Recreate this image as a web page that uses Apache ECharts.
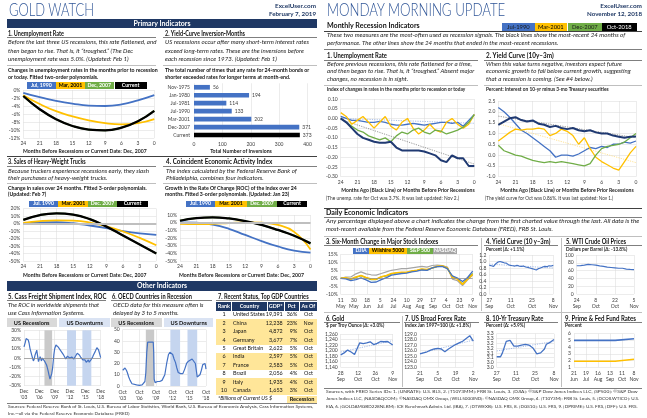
<!DOCTYPE html>
<html>
<head>
<meta charset="utf-8">
<title>Gold Watch / Monday Morning Update</title>
<script src="https://cdn.jsdelivr.net/npm/echarts@6.0.0/dist/echarts.min.js"></script>
<style>
html,body{margin:0;padding:0;background:#fff;}
#wrap{position:relative;width:647px;height:418px;overflow:hidden;font-family:Lato,"Liberation Sans",sans-serif;background:#fff;}
#bg,#chart,#fg{position:absolute;left:0;top:0;width:647px;height:418px;}
#bg{z-index:1}#chart{z-index:2}#fg{z-index:3;pointer-events:none}
.r{position:absolute}
.t{position:absolute;white-space:nowrap;line-height:1;}
.title{font-size:17px;color:#2f5597;font-weight:300;}
.site{font-size:6.3px;font-weight:700;color:#1f3864;}
.bar{font-size:7.2px;font-weight:700;color:#fff;}
.hd{font-size:6.6px;font-weight:700;color:#111;}
.it{font-size:6.4px;font-style:italic;color:#222;}
.bd{font-size:5.6px;font-weight:700;color:#111;}
.sm{font-size:4.9px;font-weight:700;color:#222;}
.nt{font-size:4.8px;color:#333;}
.src{font-size:4.6px;color:#333;}
.lg{font-size:5.2px;font-weight:700;}
.lg2{font-size:5.8px;}
.box{font-size:5.6px;font-weight:700;color:#111;}
.tb{font-size:5.4px;color:#111;}
.tbh{font-size:5.4px;font-weight:700;color:#fff;}
.tbi{font-size:5.4px;font-style:italic;color:#111;}
.dh{font-size:8.2px;font-weight:700;color:#111;}
</style>
</head>
<body>
<div id="wrap"><div id="bg"></div><div id="chart"></div><div id="fg"></div></div>
<script>
// ===================== DATA =====================
// --- Gold Watch: primary indicators (months before recession, fitted curves) ---
const monthsBefore = [24,21,18,15,12,9,6,3,0];
const unempJul1990 = [-0.7,-1.8,-2.7,-3.4,-3.9,-4.0,-3.6,-2.6,-1.3];
const unempMar2001 = [-1.3,-3.5,-5.3,-6.6,-7.6,-8.3,-8.6,-8.3,-7.3];
const unempDec2007 = [-1.5,-4.8,-7.3,-9.0,-9.9,-10.1,-9.4,-7.8,-5.2];
const unempCurrent = [-1.5,-4.8,-7.3,-9.0,-9.9,-10.1,-9.4,-7.8,-5.2];

const inversionCats = ['Nov-1975','Jan-1980','Jul-1981','Jul-1990','Mar-2001','Dec-2007','Current'];
const inversionVals = [56,194,114,133,202,371,373];

const trucksJul1990 = [0,1.5,2,0.5,-2.5,-6,-10,-13,-15];
const trucksMar2001 = [1,3.5,4.5,4,1.5,-3.5,-10.5,-19,-29];
const trucksDec2007 = [5,11.5,13.7,12,6,-4,-16,-28,-40];
const trucksCurrent = [5,11.5,13.7,12,6,-4,-16,-28,-40];

const ceaJul1990 = [0.5,0,-2.5,-8,-16,-24,-31,-36.5,-39];
const ceaMar2001 = [-1.5,-2,-1.5,-0.5,0.5,0,-3,-12,-35];
const ceaDec2007 = [2.5,6,7,5.5,2,-3,-9.5,-17,-27];
const ceaCurrent = [2.5,6,7,5.5,2,-3,-9.5,-17,-27];

// --- Other indicators ---
// Cass freight ROC: months since Dec 2003
const cassMonth = [0,3,5,8,10,12,14,16,18,20,22,24,26,28,30,32,34,36,38,41,43,45,47,49,51,53,55,57,59,61,63,65,67,70,72,75,78,80,83,86,88,92,96,98,100,102,104,107,110,112,114,117,120,122,125,128,130,133,135,138,141,143,146,149,151,153,155,157,159,161,163,165,167,169,171,173,175,177,178,180];
const cassRoc   = [12,17,21,20,19.5,16,10.5,7,3.3,0,-3.2,-1,3.3,5,8.5,2,-4,-1,1.4,-3.2,0,-1.1,-2,-4,-5,-7.6,-11,-14.8,-19,-22.8,-22,-17,-11.2,3.3,10,14.1,14.8,12,10.5,8,6.9,4,2.2,-1,-0.4,2,3.3,0,-1.1,1,0.4,-1,1.4,3,5.1,4,3.3,1,-0.4,-2,-3.2,-2,-4.7,-3,-2.2,-4.5,-4,-2,-1.1,1,3.3,5,6.9,9,11.2,10,8.7,7,6.9,0.4];
const cassTicks = ["Dec\n'03","Dec\n'06","Dec\n'09","Dec\n'12","Dec\n'15","Dec\n'18"];
const cassRecessions = [[48,66]];
const cassDownturns  = [[101,122],[137,158]];

// OECD countries in recession: months since Oct 2003
const oecdMonth = [0,2,5,8,10,13,16,20,23,30,36,42,45,48,50,52,54,60,66,67,68,70,75,80,85,88,91,95,99,102,105,108,111,114,117,120,125,130,134,138,142,146,150,154,157,159,161,164,167,170,173,176,178,180];
const oecdCount = [14,15,16,14,12,8,5,2,1,1,0.5,1,2,4,12,30,39,39,39,30,6,3,4,4,5,6,10,20,28,30,31,28,24,21,16,12,11,11,15,20,22,23,24,24,20,14,8,7,10,14,19,20,20,15];
const oecdTicks = ["Oct\n'03","Oct\n'06","Oct\n'09","Oct\n'12","Oct\n'15","Oct\n'18"];
const oecdRecessions = [[50,68]];
const oecdDownturns  = [[103,124],[140,161]];

// Top GDP countries table
const gdpRank    = [1,2,3,4,5,6,7,8,9,10];
const gdpCountry = ['United States','China','Japan','Germany','Great Britain','India','France','Brazil','Italy','Canada'];
const gdpBillions= [19391,12238,4872,3677,2622,2597,2583,2056,1935,1653];
const gdpPct     = [36,23,9,7,5,5,5,4,4,3];
const gdpAsOf    = ['Oct','Nov','Oct','Oct','Oct','Oct','Oct','Oct','Oct','Oct'];
const gdpRecession = [false,true,true,true,false,true,true,false,true,true];

// --- Monday Morning Update: monthly recession indicators ---
const monthsBack = [24,23,22,21,20,19,18,17,16,15,14,13,12,11,10,9,8,7,6,5,4,3,2,1,0];
const urJul1990 = [0.01,0.0,-0.01,-0.01,-0.015,-0.02,-0.02,-0.015,-0.02,-0.03,-0.035,-0.035,-0.03,-0.025,-0.03,-0.035,-0.03,-0.025,-0.02,-0.02,-0.025,-0.02,-0.04,-0.01,0.02];
const urMar2001 = [0.03,0.01,-0.03,-0.01,0.01,-0.02,-0.05,-0.02,0.01,-0.04,-0.06,-0.02,0.0,-0.05,-0.08,-0.06,-0.03,-0.06,-0.07,-0.02,0.0,-0.03,-0.05,-0.03,0.02];
const urDec2007 = [0.0,-0.02,-0.04,-0.06,-0.07,-0.09,-0.1,-0.11,-0.1,-0.12,-0.09,-0.07,-0.08,-0.06,-0.05,-0.07,-0.08,-0.06,-0.065,-0.08,-0.07,-0.06,-0.045,-0.02,0.02];
const urOct2018 = [0.0,-0.02,-0.05,-0.08,-0.1,-0.11,-0.12,-0.125,-0.125,-0.12,-0.15,-0.165,-0.165,-0.165,-0.165,-0.17,-0.18,-0.19,-0.215,-0.225,-0.19,-0.205,-0.205,-0.245,-0.245];
const urTrendEnds = [24,0];
const urTrendOct2018 = [-0.005,-0.235];
const urTrendJul1990 = [0.0,-0.025];

const ycJul1990 = [2.2,2.0,1.75,1.45,1.15,1.0,0.8,0.6,0.4,0.2,-0.1,0.0,0.0,-0.05,0.05,0.2,0.35,0.3,0.4,0.35,0.5,0.5,0.6,0.55,0.65];
const ycMar2001 = [0.65,0.85,1.05,1.2,1.15,1.2,1.2,1.25,1.2,0.9,1.0,1.2,1.1,0.9,0.5,0.8,0.3,-0.1,-0.3,-0.45,-0.6,-0.7,-0.3,0.1,0.4];
const ycDec2007 = [0.45,0.2,0.1,0.0,-0.05,-0.15,-0.25,-0.3,-0.35,-0.3,-0.35,-0.3,-0.35,-0.4,-0.45,-0.5,-0.4,0.0,0.3,0.4,0.45,0.5,0.6,0.8,1.0];
const ycOct2018 = [1.4,1.55,1.7,1.75,1.62,1.55,1.6,1.45,1.4,1.3,1.35,1.25,1.2,1.25,1.15,1.1,1.15,1.05,1.0,1.0,0.9,0.85,0.8,0.85,0.86];
const ycTrendOct2018 = [1.8,0.8];
const ycTrendMar2001 = [1.45,-0.35];

// --- Daily economic indicators ---
const stockDay = [0,5,10,15,20,25,30,35,40,45,50,55,60,65,70,75,80,85,90,95,100,105,110,115,120,125,130];
const djia     = [0,-0.3,-1.5,-0.8,0.2,-1.0,-2.5,-2.3,-0.8,0.4,2.0,2.5,3.0,3.2,4.0,4.5,5.2,5.0,6.5,7.3,7.5,6.0,1.5,0.2,-2.0,0.5,4.5];
const wilshire = [0,0.3,-0.5,0.8,1.8,0.5,-0.5,-0.5,1.0,1.8,3.0,3.5,3.8,3.8,4.5,5.0,5.8,5.5,6.5,7.5,7.8,6.5,0.5,-0.5,-3.8,-0.5,2.5];
const sp500    = [0,0.2,-0.6,0.6,1.6,0.3,-0.8,-0.8,0.8,1.5,2.8,3.3,3.6,3.6,4.3,4.8,5.6,5.3,6.3,7.3,7.6,6.3,0.8,-0.3,-3.3,0,3.0];
const nasdaq   = [0,0.8,0.8,2.8,4.0,2.8,2.2,2.0,3.0,4.0,5.0,5.5,6.0,6.0,6.5,7.0,7.5,7.0,8.0,8.3,8.0,7.0,-0.5,-1.5,-4.5,-1.0,2.0];
const stockTicks = ['11\nMay','30\nMay','18\nJun','5\nJul','24\nJul','10\nAug','29\nAug','17\nSep','4\nOct','23\nOct','9\nNov'];

const tradingDay = [0,1,2,3,4,5,6,7,8,9,10,11,12,13,14,15,16,17,18,19,20,21,22,23,24,25,26,27,28,29,30];
const trendEnds = [0,30];
const ycDaily = [0.88,0.87,0.85,0.93,0.98,1.00,0.98,0.96,0.95,0.90,0.88,0.87,0.86,0.88,0.86,0.85,0.86,0.83,0.82,0.80,0.78,0.76,0.74,0.78,0.80,0.83,0.85,0.84,0.87,0.86,0.88];
const ycDailyTrend = [0.92,0.80];
const ycDailyTicks = ['27\nSep','11\nOct','25\nOct','8\nNov'];
const wti = [72.5,72,73,73,74,75,76,76,75,74,74,73,72,71,71,70,69,69,68,67,67,67,66,66,66,65,64,64,63,63,62.5];
const wtiTicks = ['24\nSep','8\nOct','22\nOct','5\nNov'];
const gold = [1185,1188,1192,1196,1202,1200,1195,1190,1186,1190,1215,1228,1230,1225,1224,1228,1231,1232,1230,1222,1220,1226,1231,1233,1230,1232,1234,1233,1228,1225,1220];
const goldTrend = [1195,1236];
const goldTicks = ['28\nSep','12\nOct','26\nOct','9\nNov'];
const forex = [125.4,125.5,125.6,125.6,125.8,125.9,126.1,126.2,126.3,126.3,126.4,126.5,126.3,126.0,125.8,125.9,126.3,126.5,126.7,126.9,127.1,127.2,127.4,127.6,127.7,127.9,128.2,128.5,128.7,128.2,127.7];
const forexTrend = [125.5,127.9];
const forexTicks = ['21\nSep','5\nOct','19\nOct','2\nNov'];
const tsy10 = [3.06,3.08,3.06,3.10,3.16,3.22,3.24,3.23,3.22,3.17,3.16,3.17,3.17,3.18,3.20,3.19,3.20,3.18,3.17,3.15,3.12,3.09,3.08,3.10,3.12,3.14,3.19,3.20,3.21,3.21,3.24];
const tsy10Trend = [3.12,3.22];
const tsy10Ticks = ['27\nSep','11\nOct','25\nOct','8\nNov'];
const rateDay = [0,96,99,140];
const primeRate = [5.0,5.0,5.25,5.25];
const fedFunds = [1.91,1.91,2.18,2.20];
const rateTicks = ['21\nJun','19\nJul','16\nAug','13\nSep','11\nOct','8\nNov'];

// ===================== STYLE / LAYOUT =====================
const BLUE='#4472c4', YEL='#ffc000', GRN='#70ad47', BLK='#000000', NAVY='#1f3864', NAVYL='#203a72', GRAY='#a5a5a5';
const bg=document.getElementById('bg'), fg=document.getElementById('fg');
function rect(x,y,w,h,c){const d=document.createElement('div');d.className='r';Object.assign(d.style,{left:x+'px',top:y+'px',width:w+'px',height:h+'px',background:c});bg.appendChild(d);return d;}
function hline(x1,x2,y,c,t){t=t||0.6;return rect(x1,y-t/2,x2-x1,t,c||'#7f7f7f');}
function vline(x,y1,y2,c,t){t=t||0.6;return rect(x-t/2,y1,t,y2-y1,c||'#bfbfbf');}
const texts=[];
function T(x,y,s,cls,w,align,color){const d=document.createElement('div');d.className='t '+cls;d.textContent=s;d.style.left=x+'px';d.style.top=y+'px';if(color)d.style.color=color;fg.appendChild(d);texts.push({d,w,cls,align:align||'l'});return d;}
function fitTexts(){
  const sums={};
  texts.forEach(o=>{o.nat=o.d.getBoundingClientRect().width; if(o.w){o.s=o.w/o.nat;(sums[o.cls]=sums[o.cls]||[]).push(o.s);}});
  texts.forEach(o=>{
    let s=o.s; if(!s){const a=sums[o.cls]; s=a?a.reduce((p,c)=>p+c,0)/a.length:1;}
    const tx=o.align==='c'?'-50%':o.align==='r'?'-100%':'0';
    o.d.style.transformOrigin=(o.align==='c'?'center':o.align==='r'?'right':'left')+' center';
    o.d.style.transform='translate('+tx+',-60%) scaleX('+s.toFixed(3)+')';
  });
}
function legend(boxes,y1,y2,names,bgs,fgs,cls){boxes.forEach((b,i)=>{rect(b[0],y1,b[1]-b[0],y2-y1,bgs[i]);T((b[0]+b[1])/2,(y1+y2)/2+0.3,names[i],cls||'lg',null,'c',fgs[i]);});}

// ---------- LEFT PAGE ----------
T(9,11,'GOLD WATCH','title',85);
T(316,6.7,'ExcelUser.com','site',41,'r');
T(316,15,'February 7, 2019','site',47,'r');
rect(7,19,309.7,9.3,NAVY);
T(161.5,23.9,'Primary Indicators','bar',57,'c');

T(8,33.7,'1. Unemployment Rate','hd',56);
T(165,34.3,'2. Yield-Curve Inversion-Months','hd',80);
hline(7,156,37.5); hline(163,316.7,37.5);
T(8.3,43.3,'Before the last three US recessions, this rate flattened, and','it',148.4);
T(8.3,51.7,'then began to rise. That is, it “troughed.” (The Dec','it');
T(8.3,60,'unemployment rate was 5.0%. (Updated: Feb 1)','it');
T(165,43.3,'US recessions occur after many short-term interest rates','it',144);
T(165,51.7,'exceed long-term rates. These are the inversions before','it');
T(165,60,'each recession since 1973. (Updated: Feb 1)','it');
hline(7,156,65.7,'#bfbfbf'); hline(163,316.7,65.7,'#bfbfbf');
T(8,70,'Changes in unemployment rates in the months prior to recession','bd',149.7);
T(8,76.7,'or today. Fitted two-order polynomials.','bd');
T(165,70,'The total number of times that any rate for 24-month bonds or','bd',144.3);
T(165,76.7,'shorter exceeded rates for longer terms at month-end.','bd');
const leftNames=['Jul, 1990','Mar, 2001','Dec, 2007','Current'];
const leftBg=[BLUE,YEL,GRN,BLK], leftFg=['#fff','#000','#fff','#fff'];
legend([[26.7,56],[56,85],[85,113.5],[114.5,146.7]],82.3,88.7,leftNames,leftBg,leftFg);
T(23,151.7,'Months Before Recessions or Current Date: Dec, 2007','sm',123.7);
T(241,151.7,'Total Number of Inversions','sm',61.7,'c');
hline(7,316.7,156,'#404040',0.8);

T(8,162.3,'3. Sales of Heavy-Weight Trucks','hd',77.7);
T(166,162.3,'4. Coincident Economic Activity Index','hd',106.3);
hline(7,156,166); hline(163,316.7,166);
T(8.3,171.7,'Because truckers experience recessions early, they slash','it',141);
T(8.3,179.3,'their purchases of heavy-weight trucks.','it');
T(166,171.7,'The index calculated by the Federal Reserve Bank of','it',130.7);
T(166,179.3,'Philadelphia, combines four indicators.','it');
hline(7,156,183.3,'#bfbfbf'); hline(163,316.7,183.3,'#bfbfbf');
T(8,187.7,'Change in sales over 24 months. Fitted 3-order polynomials.','bd',138.7);
T(8,194.3,'(Updated: Feb 7)','bd');
T(165,187.7,'Growth in the Rate Of Change (ROC) of the index over 24','bd',131.7);
T(165,194.3,'months. Fitted 3-order polynomials. (Updated: Jan 23)','bd');
legend([[29,58.3],[58.3,88.3],[88.3,116.7],[116.7,148.3]],200.7,206.7,['Jul. 1990','Mar. 2001','Dec. 2007','Current'],leftBg,leftFg);
legend([[186,215],[215,247],[247,277],[277,307]],200.7,206.7,['Jul. 1990','Mar. 2001','Dec. 2007','Current'],leftBg,leftFg);
T(23,275.7,'Months Before Recessions or Current Date: Dec, 2007','sm',123.4);
T(178.5,275.7,'Months Before Recessions or Current Date: Dec, 2007','sm',125);

rect(7,281,309.7,10,NAVY);
T(161.5,286.2,'Other Indicators','bar',50,'c');
T(8,296.7,'5. Cass Freight Shipment Index, ROC','hd',98.4);
T(112,296.7,'6. OECD Countries in Recession','hd',80);
T(218,296.7,'7. Recent Status, Top GDP Countries','hd',90.6);
hline(7,106,300); hline(111,212,300); hline(216,317.3,300);
T(8.3,306,'The ROC in worldwide shipments that','it',91);
T(8.3,314,'use Cass Information Systems.','it');
T(112.7,306,'OECD data for this measure often is','it',90.6);
T(112.7,314,'delayed by 3 to 5 months.','it');
rect(6.7,318.3,50,8.4,'#d9d9d9'); T(31.7,322.6,'US Recessions','box',null,'c');
rect(59.3,318.3,50.7,8.4,'#dae3f3'); T(84.7,322.6,'US Downturns','box',null,'c');
rect(110.7,318.3,51,8.4,'#d9d9d9'); T(136.2,322.6,'US Recessions','box',null,'c');
rect(164.3,318.3,49,8.4,'#dae3f3'); T(188.8,322.6,'US Downturns','box',null,'c');

// table
const TX=[216,231.7,267.3,284,299.3,317.3];
rect(216,301.7,101.3,9.3,NAVY);
[1,2,3,4].forEach(i=>vline(TX[i],301.7,311,'#ffffff',0.6));
['Rank','Country','GDP*','Pct','As Of'].forEach((h,i)=>T((TX[i]+TX[i+1])/2,306.5,h,'tbh',null,'c'));
gdpRank.forEach((r,i)=>{
  const y=311+i*8.4;
  if(gdpRecession[i]) rect(216,y,101.3,8.4,'#ffe699');
  const cy=y+4.3;
  T(224,cy,String(r),'tb',null,'c');
  T(233,cy,gdpCountry[i],'tb');
  T(282.7,cy,gdpBillions[i].toLocaleString('en-US'),'tb',null,'r');
  T(297.3,cy,gdpPct[i]+'%','tb',null,'r');
  T(308.5,cy,gdpAsOf[i],'tb',null,'c');
});
T(218,399.3,'*Billions of Current US $','tbi');
rect(286.7,395.5,30.6,7.6,'#ffe699'); T(302,399.4,'Recession','box',null,'c');
hline(7,317.3,403,'#7f7f7f');
T(7.5,406.9,'Sources:  Federal Reserve Bank of St. Louis, U.S. Bureau of Labor Statistics, World Bank, U.S. Bureau of Economic Analysis, Cass Information Systems,','src',305.5);
T(7.5,413.7,'Inc.--all via the Federal Reserve Economic Database (FRED)','src');

// ---------- RIGHT PAGE ----------
T(326.7,11,'MONDAY MORNING UPDATE','title',178.3);
T(641.7,6.7,'ExcelUser.com','site',41.7,'r');
T(641.7,15,'November 12, 2018','site',55,'r');
T(326.5,25.9,'Monthly Recession Indicators','hd',92.7);
const rightNames=['Jul-1990','Mar-2001','Dec-2007','Oct-2018'];
legend([[501.7,535],[535,566.7],[568,601.7],[601.7,636.7]],22.7,30.7,rightNames,[BLUE,YEL,GRN,BLK],['#1a1a1a','#000','#1a1a1a','#fff'],'lg2');
hline(324,642,31.2,'#404040',0.7);
T(326.7,36,'These two measures are the most-often used as recession signals. The black lines show the most-recent 24 months of','it',298.3);
T(326.7,44,'performance. The other lines show the 24 months that ended in the most-recent recessions.','it');
hline(324,642,49.3,'#7f7f7f');
T(326.7,56,'1. Unemployment Rate','hd',60);
T(485.7,56,'2. Yield Curve (10y–3m)','hd',67.7);
hline(324,478,60); hline(484,642,60);
T(326.7,64.7,'Before previous recessions, this rate flattened for a time,','it',145);
T(326.7,72.3,'and then began to rise. That is, it “troughed.” Absent major','it');
T(326.7,80.3,'changes, no recession is in sight.','it');
T(485.7,64.7,'When this value turns negative, investors expect future','it',136);
T(485.7,72.3,'economic growth to fall below current growth, suggesting','it');
T(485.7,80.3,'that a recession is coming. (See #4 below.)','it');
hline(324,478,85,'#bfbfbf'); hline(484,642,85,'#bfbfbf');
T(326.7,90,'Index of changes in rates in the months prior to recession or today','sm',138.3);
T(485.7,90,'Percent: Interest on 10-yr minus 3-mo Treasury securities','sm',122.6);
T(407.5,190.5,'Months Ago (Black Line) or Months Before Prior Recessions','sm',133.3,'c');
T(567,190.5,'Months Ago (Black Line) or Months Before Prior Recessions','sm',133.3,'c');
T(325.5,199.2,'(The unemp. rate for Oct was 3.7%. It was last updated: Nov 2.)','nt',133);
T(485.3,199.2,'(The yield curve for Oct was 0.86%. It was last updated: Nov 1.)','nt',128.3);
hline(324,642,208.7,'#404040',0.8);
T(325.5,212.5,'Daily Economic Indicators','dh',82.3);
hline(324,642,217.5,'#7f7f7f');
T(325.5,221.9,'Any percentage displayed above a chart indicates the change from the first charted value through the last. All data is the','it',313.3);
T(325.5,230,'most-recent available from the Federal Reserve Economic Database (FRED), FRB St. Louis.','it');
hline(324,642,236,'#bfbfbf');
T(325.5,241.7,'3. Six-Month Change in Major Stock Indexes','hd',112.3);
T(485.7,241.7,'4. Yield Curve (10 y–3m)','hd',64.3);
T(566,241.7,'5. WTI Crude Oil Prices','hd',60);
hline(324,478,245); hline(484,558,245); hline(564,642,245);
legend([[353,369],[369,407],[407,433],[433,457]],247.7,254.3,['DJIA','Wilshire 5000','S&P 500','NASDAQ'],[BLUE,YEL,GRN,GRAY],['#fff','#000','#fff','#fff']);
T(485.7,250,'Percent (Δ: +1.1%)','sm',38.3);
T(566,250,'Dollars per Barrel (Δ: -13.8%)','sm',61.3);
vline(481,238,311); vline(561,238,387);
hline(324,642,312,'#bfbfbf');
T(325.5,319.3,'6. Gold','hd',18.3);
T(405,319.3,'7. US Broad Forex Rate','hd',61);
T(486,319.3,'8. 10-Yr Treasury Rate','hd',57.3);
T(565,319.3,'9. Prime & Fed Fund Rates','hd',71);
hline(324,400,322); hline(404,479,322); hline(484,558,322); hline(564,642,322);
T(325.5,326.3,'$ per Troy Ounce (Δ: +3.0%)','sm',58.3);
T(405,326.3,'Index Jan 1997=100 (Δ: +1.8%)','sm',65.7);
T(486,326.3,'Percent (Δ: +5.9%)','sm',39);
T(565,326.3,'Percent','sm');
vline(402,316,387);
hline(324,642,388,'#7f7f7f');
T(325.5,391.8,'Sources, with FRED Series IDs:  1. [UNRATE]: U.S. BLS,  2. [T10Y3MM]: FRB St. Louis,  3. [DJIA]: ©S&P Dow Jones Indices LLC, [SP500]: ©S&P Dow','src',311.5);
T(325.5,399.3,'Jones Indices LLC, [NASDAQCOM]: ©NASDAQ OMX Group, [WILL5000IND]: ©NASDAQ OMX Group,  4. [T10Y3M]: FRB St. Louis,  5. [DCOILWTICO]: U.S.','src',313);
T(325.5,406.7,'EIA,  6. [GOLDAMGBD228NLBM]: ICE Benchmark Admin. Ltd. (IBA),  7. [DTWEXB]: U.S. FRS,  8. [DGS10]: U.S. FRS, 9. [DPRIME]: U.S. FRS, [DFF]: U.S. FRS.','src',311.5);

// ===================== CHARTS =====================
const chart=echarts.init(document.getElementById('chart'),null,{renderer:'canvas',width:647,height:418});
const grid=[],xAxis=[],yAxis=[],series=[];
const AL={fontSize:5,color:'#404040',fontFamily:'Lato',margin:3};
const SL={show:true,lineStyle:{color:'#d9d9d9',width:0.5}};
function G(left,top,width,height){grid.push({left,top,width,height,containLabel:false,outerBoundsMode:'none'});return grid.length-1;}
function VA(gi,min,max,interval,fmt,ex){return Object.assign({type:'value',gridIndex:gi,min,max,interval,axisLabel:Object.assign({},AL,fmt?{formatter:fmt}:{}),splitLine:SL,axisLine:{show:false},axisTick:{show:false}},ex||{});}
function LN(gi,pts,color,width,ex){series.push(Object.assign({type:'line',xAxisIndex:gi,yAxisIndex:gi,data:pts,symbol:'none',lineStyle:{color,width},itemStyle:{color},silent:true,animation:false},ex||{}));}
const zip=(xs,ys)=>xs.map((x,i)=>[x,ys[i]]);
const pct=v=>Math.round(v)+'%';
const fx=(d)=>v=>{const z=Math.abs(v)<1e-9?0:v;return z.toFixed(d);};
const ticks=(arr,step)=>v=>arr[Math.round(v/step)]||'';
const XL={lineHeight:6};
function zeroLine(color,width){return {markLine:{silent:true,symbol:'none',label:{show:false},lineStyle:{color,width,type:'solid'},data:[{yAxis:0}]}};}
function bands(rec,down){return {markArea:{silent:true,data:rec.map(b=>[{xAxis:b[0],itemStyle:{color:'#c9c9c9'}},{xAxis:b[1]}]).concat(down.map(b=>[{xAxis:b[0],itemStyle:{color:'#c5d5ef'}},{xAxis:b[1]}]))}};}
function trend(gi,ends,vals,color){LN(gi,zip(ends,vals),color,0.9,{lineStyle:{color,width:0.9,type:[1.2,1.2]}});}

// C1 unemployment (left)
let g=G(23.3,90,131,48);
xAxis.push(VA(g,0,24,3,null,{inverse:true}));
yAxis.push(VA(g,-12,0,2,pct));
LN(g,zip(monthsBefore,unempDec2007),GRN,1.8,{smooth:true});
LN(g,zip(monthsBefore,unempJul1990),BLUE,1.8,{smooth:true});
LN(g,zip(monthsBefore,unempMar2001),YEL,1.8,{smooth:true});
LN(g,zip(monthsBefore,unempCurrent),BLK,2.3,{smooth:true});

// C2 inversions bar
g=G(194,83.3,113.5,55.7);
xAxis.push(VA(g,0,400,100));
yAxis.push({type:'category',gridIndex:g,data:inversionCats,inverse:true,axisLabel:Object.assign({},AL,{margin:4}),axisLine:{show:false},axisTick:{show:false},splitLine:{show:false}});
series.push({type:'bar',xAxisIndex:g,yAxisIndex:g,barWidth:4.7,silent:true,animation:false,
  data:inversionVals.map((v,i)=>({value:v,itemStyle:{color:inversionCats[i]==='Current'?BLK:BLUE}})),
  label:{show:true,position:'right',fontSize:5,color:'#404040',fontFamily:'Lato',distance:3}});

// C3 trucks
g=G(23.3,208.7,133,52.3);
xAxis.push(VA(g,0,24,3,null,{inverse:true}));
yAxis.push(VA(g,-50,20,10,pct));
LN(g,zip(monthsBefore,trucksDec2007),GRN,1.8,Object.assign({smooth:true},zeroLine('#bfbfbf',1.8)));
LN(g,zip(monthsBefore,trucksJul1990),BLUE,1.8,{smooth:true});
LN(g,zip(monthsBefore,trucksMar2001),YEL,1.8,{smooth:true});
LN(g,zip(monthsBefore,trucksCurrent),BLK,2.3,{smooth:true});

// C4 coincident index
g=G(180,215,130.5,46);
xAxis.push(VA(g,0,24,3,null,{inverse:true}));
yAxis.push(VA(g,-50,10,10,pct));
LN(g,zip(monthsBefore,ceaDec2007),GRN,1.8,Object.assign({smooth:true},zeroLine('#bfbfbf',1.8)));
LN(g,zip(monthsBefore,ceaJul1990),BLUE,1.8,{smooth:true});
LN(g,zip(monthsBefore,ceaMar2001),YEL,1.8,{smooth:true});
LN(g,zip(monthsBefore,ceaCurrent),BLK,2.3,{smooth:true});

// C5 Cass freight
g=G(24,330.3,76.7,55.4);
xAxis.push(VA(g,0,180,36,null,{axisLabel:Object.assign({},AL,XL,{formatter:ticks(cassTicks,36)})}));
yAxis.push(VA(g,-30,30,10,pct));
LN(g,zip(cassMonth,cassRoc),BLUE,1.2,Object.assign({},bands(cassRecessions,cassDownturns),zeroLine('#8c8c8c',0.7)));

// C6 OECD
g=G(122.7,329.7,83.3,56.3);
xAxis.push(VA(g,0,180,36,null,{axisLabel:Object.assign({},AL,XL,{formatter:ticks(oecdTicks,36)})}));
yAxis.push(VA(g,0,50,10));
LN(g,zip(oecdMonth,oecdCount),BLUE,1.2,bands(oecdRecessions,oecdDownturns));

// R1 unemployment index
g=G(340.7,99,133.6,77.7);
xAxis.push(VA(g,0,24,3,null,{inverse:true}));
yAxis.push(VA(g,-0.3,0.1,0.05,fx(2)));
trend(g,urTrendEnds,urTrendJul1990,'#9db5e3');
trend(g,urTrendEnds,urTrendOct2018,'#8c8c8c');
LN(g,zip(monthsBack,urJul1990),BLUE,1.3);
LN(g,zip(monthsBack,urMar2001),YEL,1.3);
LN(g,zip(monthsBack,urDec2007),GRN,1.3);
LN(g,zip(monthsBack,urOct2018),NAVYL,2);

// R2 yield curve monthly
g=G(498.3,101,137.7,75.7);
xAxis.push(VA(g,0,24,3,null,{inverse:true}));
yAxis.push(VA(g,-1,2.5,0.5,fx(1)));
trend(g,urTrendEnds,ycTrendMar2001,'#ffe08a');
trend(g,urTrendEnds,ycTrendOct2018,'#8c8c8c');
LN(g,zip(monthsBack,ycJul1990),BLUE,1.3);
LN(g,zip(monthsBack,ycMar2001),YEL,1.3);
LN(g,zip(monthsBack,ycDec2007),GRN,1.3);
LN(g,zip(monthsBack,ycOct2018),NAVYL,2);

// R3 stocks
g=G(340.7,254.3,132,40);
xAxis.push(VA(g,0,130,13,null,{axisLabel:Object.assign({},AL,XL,{formatter:ticks(stockTicks,13)})}));
yAxis.push(VA(g,-10,15,5,pct));
LN(g,zip(stockDay,nasdaq),GRAY,1.2,zeroLine('#8c8c8c',0.7));
LN(g,zip(stockDay,sp500),GRN,1.2);
LN(g,zip(stockDay,wilshire),YEL,1.6);
LN(g,zip(stockDay,djia),BLUE,1.3);

function daily(left,top,w,h,ymin,ymax,yint,yfmt,xt,xmax,xint){
  const gi=G(left,top,w,h);
  xAxis.push(VA(gi,0,xmax,xint,null,{axisLabel:Object.assign({},AL,XL,{formatter:ticks(xt,xint)})}));
  yAxis.push(VA(gi,ymin,ymax,yint,yfmt));
  return gi;
}
// R4 yield curve daily
g=daily(489.3,255,64,39,0,1.2,0.2,fx(1),ycDailyTicks,30,10);
trend(g,trendEnds,ycDailyTrend,'#9db5e3');
LN(g,zip(tradingDay,ycDaily),BLUE,1.2);
// R5 WTI
g=daily(576.7,255,57.3,39,0,100,20,null,wtiTicks,30,10);
LN(g,zip(tradingDay,wti),BLUE,1.2);
// R6 gold
g=daily(340.7,334,52,33.3,1140,1260,20,v=>Math.round(v).toLocaleString('en-US'),goldTicks,30,10);
trend(g,trendEnds,goldTrend,'#9db5e3');
LN(g,zip(tradingDay,gold),BLUE,1.3);
// R7 forex
g=daily(420,334,53.3,33.3,123,129,1,fx(1),forexTicks,30,10);
trend(g,trendEnds,forexTrend,'#9db5e3');
LN(g,zip(tradingDay,forex),BLUE,1.3);
// R8 10-yr
g=daily(496.7,333.7,57.3,33.6,2.95,3.3,0.05,v=>(Math.round(v*10+1e-6)/10).toFixed(1),tsy10Ticks,30,10);
trend(g,trendEnds,tsy10Trend,'#9db5e3');
LN(g,zip(tradingDay,tsy10),BLUE,1.3);
// R9 prime & fed funds
g=daily(574,333.7,60,33.6,1,6,1,null,rateTicks,140,28);
LN(g,zip(rateDay,primeRate),BLUE,1.6);
LN(g,zip(rateDay,fedFunds),YEL,1.6);

chart.setOption({animation:false,backgroundColor:'transparent',grid,xAxis,yAxis,series});
fitTexts();
</script>
</body>
</html>
